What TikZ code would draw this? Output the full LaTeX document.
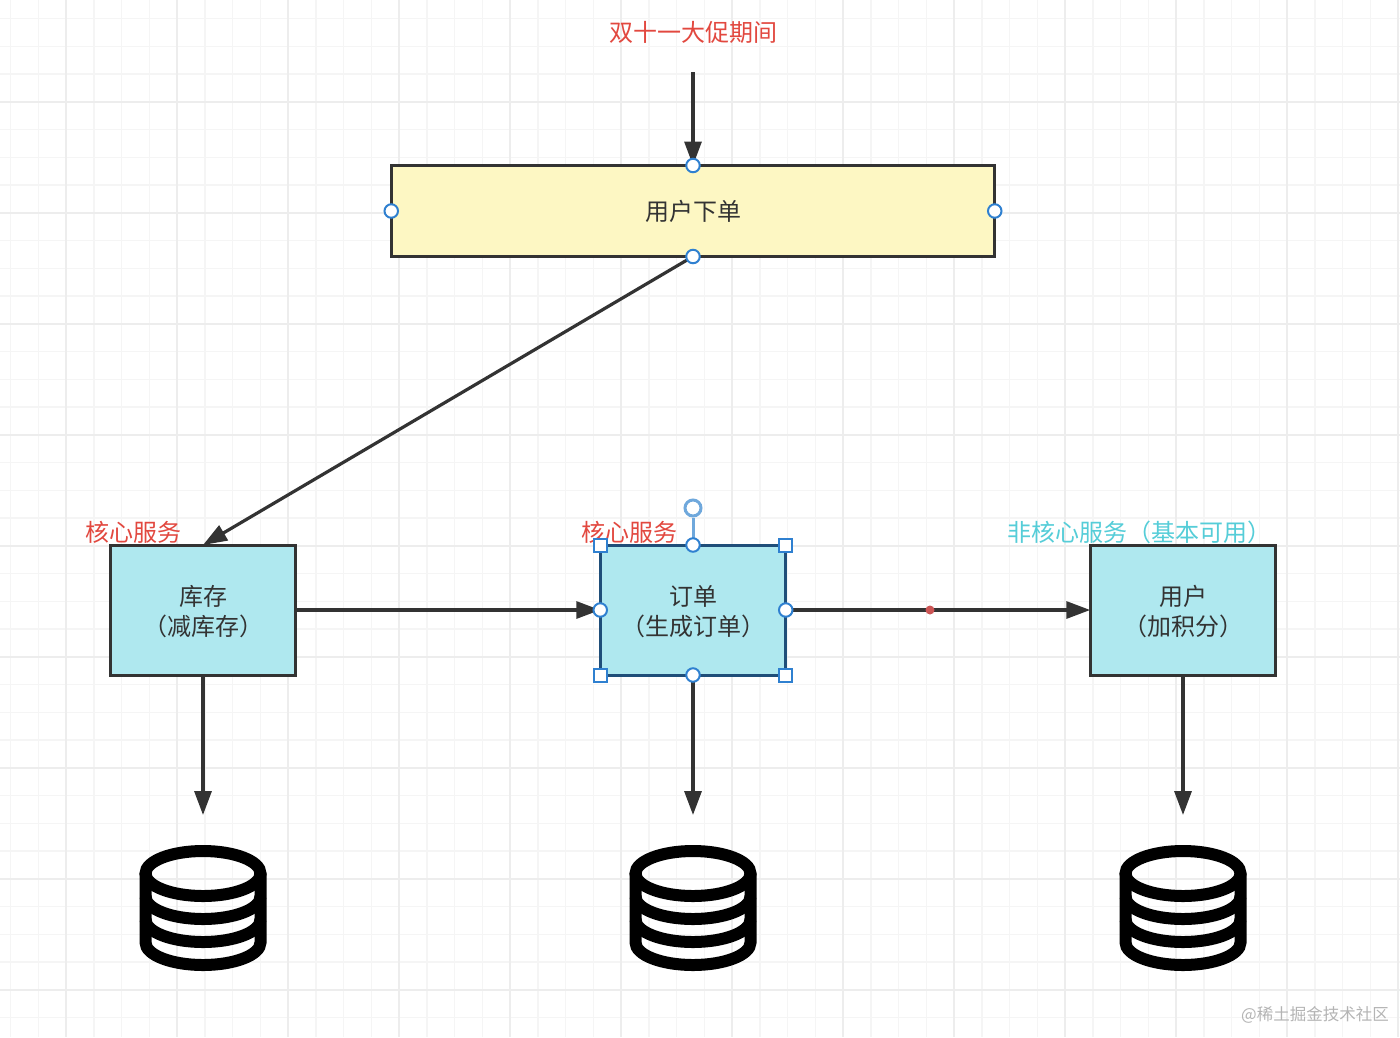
\documentclass[tikz,border=0pt]{standalone}
\usepackage{fontspec}
\setmainfont{Noto Sans CJK SC}
\usetikzlibrary{%
  positioning
 ,arrows.meta
}
\definecolor{gridmajor}{HTML}{EDEDED}
\definecolor{gridminor}{HTML}{F5F5F5}
\definecolor{ink}{HTML}{333333}
\definecolor{boxyellow}{HTML}{FDF7C3}
\definecolor{boxblue}{HTML}{AFE8EF}
\definecolor{selblue}{HTML}{1F4E79}
\definecolor{hdlblue}{HTML}{2F80D0}
\definecolor{rothdl}{HTML}{6FA8DC}
\definecolor{notered}{HTML}{E2483F}
\definecolor{notecyan}{HTML}{55CDD8}
\definecolor{dotred}{HTML}{CC5555}
\definecolor{wmgray}{HTML}{B4B4B4}
\newcommand{\lowerln}{\rule{0pt}{23pt}}
\tikzstyle{flow}=[x=1pt,y=-1pt,>={Triangle[length=24pt,width=17pt]},font=\fontsize{24}{30}\selectfont,on grid]
\tikzstyle{srv}=[rectangle,draw=ink,line width=3pt,fill=boxblue,text=ink,align=center,minimum width=185.5pt,minimum height=130pt,outer sep=0pt,inner sep=0pt]
\tikzstyle{conn}=[draw=ink,line width=3.2pt]
\tikzstyle{note}=[inner sep=0pt,text=notered]
\tikzstyle{hdl}=[circle,draw=hdlblue,fill=white,line width=2pt,minimum size=13.5pt,inner sep=0pt]
\tikzstyle{hdlsq}=[rectangle,draw=hdlblue,fill=white,line width=2pt,minimum size=13pt,inner sep=0pt]
\begin{document}
\begin{tikzpicture}[flow]
      \useasboundingbox (0,0) rectangle (1400,1037);
      \fill[white] (0,0) rectangle (1400,1037);
      % grid
      \foreach \i in {0,...,50} {
        \draw[gridminor,line width=1.5pt] ({10.5+27.75*\i},0) -- ({10.5+27.75*\i},1037);
      }
      \foreach \i in {0,...,37} {
        \draw[gridminor,line width=1.5pt] (0,{18.7+27.75*\i}) -- (1400,{18.7+27.75*\i});
      }
      \foreach \i in {0,...,12} {
        \draw[gridmajor,line width=2pt] ({66+111*\i},0) -- ({66+111*\i},1037);
      }
      \foreach \i in {0,...,9} {
        \draw[gridmajor,line width=2pt] (0,{102+111*\i}) -- (1400,{102+111*\i});
      }
      % boxes
      \node[srv,fill=boxyellow,minimum width=603.5pt,minimum height=91pt] (place) at (693,211) {用户下单};
      \node[srv] (store) at (203,610) {\lowerln 库存\\（减库存）};
      \node[srv,draw=selblue,right=490pt of store] (order) {\lowerln 订单\\（生成订单）};
      \node[srv,right=490pt of order] (user) {\lowerln 用户\\（加积分）};
      \coordinate (start) at (693,72);
      \node[text=notered] (title) at (693,32) {双十一大促期间};
      % connectors
      \coordinate (mid) at (930,610);
      \path[->]
        (start) edge[conn] (place.north)
        (place.south) edge[conn] (store.north)
        (store) edge[conn] (order)
        (order) edge[conn] (user);
      % databases
      \foreach \n in {store,order,user} {
        \coordinate[below=140pt of \n.south] (\n_end);
        \coordinate[below=198.5pt of \n.south] (\n_db);
        \path[->] (\n.south) edge[conn] (\n_end);
        \begin{scope}[shift={(\n_db)},line width=12pt,draw=black]
          \draw (0,0) ellipse [x radius=57.5pt,y radius=22.5pt];
          \draw (-57.5,0) -- (-57.5,69) arc [start angle=180,end angle=360,x radius=57.5pt,y radius=22.5pt] -- (57.5,0);
          \draw (-57.5,23) arc [start angle=180,end angle=360,x radius=57.5pt,y radius=22.5pt];
          \draw (-57.5,46) arc [start angle=180,end angle=360,x radius=57.5pt,y radius=22.5pt];
        \end{scope}
      }
      % notes
      \node[note,anchor=west] (note_store) at (85,532) {核心服务};
      \node[note,anchor=west] (note_order) at (581,532) {核心服务};
      \node[note,anchor=west,text=notecyan] (note_user) at (1007,532) {非核心服务（基本可用）};
      % selection
      \node[circle,fill=dotred,minimum size=9pt,inner sep=0pt] (dot) at (mid) {};
      \node[circle,draw=rothdl,fill=white,line width=3pt,minimum size=16pt,inner sep=0pt] (rot) at (693,508) {};
      \path (rot) edge[draw=rothdl,line width=3pt] (order.north);
      \node[hdl] (place_n) at (place.north) {};
      \node[hdl] (place_s) at (place.south) {};
      \node[hdl] (place_w) at (place.west) {};
      \node[hdl] (place_e) at (place.east) {};
      \node[hdl] (order_n) at (order.north) {};
      \node[hdl] (order_s) at (order.south) {};
      \node[hdl] (order_w) at (order.west) {};
      \node[hdl] (order_e) at (order.east) {};
      \node[hdlsq] (order_nw) at (order.north west) {};
      \node[hdlsq] (order_ne) at (order.north east) {};
      \node[hdlsq] (order_sw) at (order.south west) {};
      \node[hdlsq] (order_se) at (order.south east) {};
      \node[anchor=east,inner sep=0pt,text=wmgray,font=\fontsize{16.5}{20}\selectfont] (mark) at (1389,1015) {@稀土掘金技术社区};
    \end{tikzpicture}
\end{document}
